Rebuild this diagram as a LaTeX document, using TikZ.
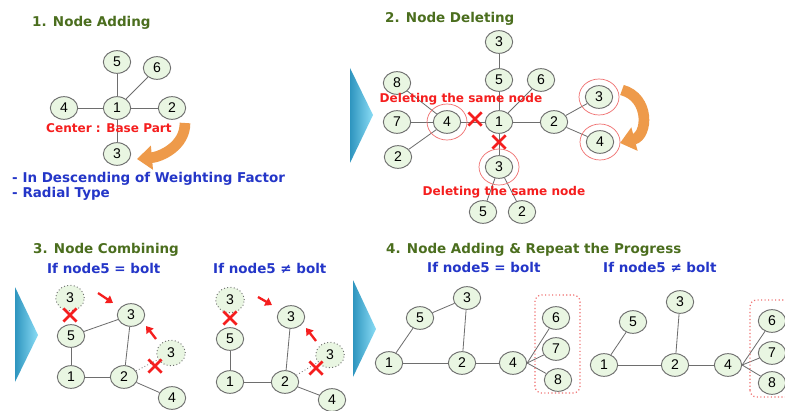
\documentclass[tikz,border=0pt]{standalone}
\usepackage{fontspec}
\setmainfont{DejaVu Sans}
\newfontfamily\digitfont{Liberation Sans}
\usepackage{tikz}
\usetikzlibrary{shapes.geometric, shapes.misc, arrows.meta, positioning}
\definecolor{ndfill}{HTML}{E9F6E2}
\definecolor{ndline}{HTML}{6E6E6E}
\definecolor{ttlgreen}{HTML}{4B6E1E}
\definecolor{subblue}{HTML}{2436C8}
\definecolor{alertred}{HTML}{F51E1E}
\definecolor{turnorange}{HTML}{EE9A4A}
\definecolor{ringred}{HTML}{F07070}
\definecolor{wedgedark}{HTML}{2E95BF}
\definecolor{wedgelight}{HTML}{8ADCF5}
\tikzset{
  nd/.style={ellipse, draw=ndline, fill=ndfill, line width=0.8pt, minimum width=8.2mm, minimum height=6.8mm, inner sep=0pt, font=\digitfont\fontsize{12}{12}\selectfont},
  ghost/.style={nd, dotted, minimum width=8.6mm, minimum height=7.6mm},
  hilite/.style={ellipse, draw=ringred, line width=0.6pt, minimum width=12mm, minimum height=10.8mm},
  lnk/.style={draw=ndline, line width=0.7pt},
  xmark/.style={cross out, draw=alertred, line width=2.2pt, minimum size=3.2mm, inner sep=0pt},
  ttl/.style={anchor=west, inner sep=0pt, text=ttlgreen, font=\bfseries\fontsize{11.5}{12}\selectfont},
  sub/.style={anchor=west, inner sep=0pt, text=subblue, font=\bfseries\fontsize{11.5}{12}\selectfont},
  note/.style={inner sep=0pt, text=alertred, font=\bfseries\fontsize{10.3}{11}\selectfont},
  turn/.style={draw=turnorange, line width=3.2mm, -{Triangle[width=7mm,length=4.5mm]}},
  push/.style={draw=alertred, line width=2pt, -{Triangle[width=2.6mm,length=2mm]}},
  grp/.style={draw=ringred, dotted, line width=1pt, rounded corners=2mm},
  wedge/.style={left color=wedgedark, right color=wedgelight}
}
\begin{document}
\begin{tikzpicture}[x=0.3mm, y=0.3mm]
\useasboundingbox (0,0) rectangle (785,410);
\fill[white] (0,0) rectangle (785,410);
\clip (0,0) rectangle (785,410);

\shade[wedge] (350,342) -- (373,295) -- (350,247) -- cycle;
\shade[wedge] (15,123) -- (38,75) -- (15,28) -- cycle;
\shade[wedge] (353,130) -- (376,81) -- (353,33) -- cycle;

\node[ttl] (t1) at (32,387) {1. Node Adding};
\node[nd] (a5) at (117,348) {5};
\node[nd] (a6) at (157,342) {6};
\node[nd] (a4) at (64,302) {4};
\node[nd] (a1) at (117,302) {1};
\node[nd] (a2) at (172,302) {2};
\node[nd] (a3) at (117,256) {3};
\draw[lnk] (a1) edge (a5) (a1) edge (a6) (a1) edge (a4) (a1) edge (a2) (a1) edge (a3);
\node[note, anchor=west] (n1) at (46,282) {Center : Base Part};
\coordinate (s1) at (185,287);
\coordinate (e1) at (137,251);
\draw[turn] (s1) to[out=-90, in=5] (e1);
\node[sub] (l1) at (12,231) {- In Descending of Weighting Factor};
\node[sub] (l2) at (12,216) {- Radial Type};

\node[ttl] (t2) at (385,391) {2. Node Deleting};
\node[nd] (b3t) at (499,368) {3};
\node[nd] (b5) at (499,330) {5};
\node[nd] (b6) at (541,330) {6};
\node[nd] (b8) at (397,327) {8};
\node[nd] (b7) at (397,288) {7};
\node[nd] (b4) at (447,288) {4};
\node[nd] (b1) at (499,288) {1};
\node[nd] (b2) at (554,288) {2};
\node[nd] (b3r) at (599,313) {3};
\node[nd] (b4r) at (600,268) {4};
\node[nd] (b2l) at (398,253) {2};
\node[nd] (b3b) at (499,243) {3};
\node[nd] (b5b) at (483,198) {5};
\node[nd] (b2b) at (522,198) {2};
\draw[lnk] (b3t) edge (b5) (b5) edge (b1) (b6) edge (b1) (b4) edge (b1) (b1) edge (b2)
  (b1) edge (b3b) (b2) edge (b3r) (b2) edge (b4r) (b8) edge (b4) (b7) edge (b4)
  (b2l) edge (b4) (b3b) edge (b5b) (b3b) edge (b2b);
\node[hilite] (h1) at (b4) {};
\node[hilite] (h2) at (b3r) {};
\node[hilite] (h3) at (b4r) {};
\node[hilite] (h4) at (b3b) {};
\node[xmark] (x1) at (475,291) {};
\node[xmark] (x2) at (499,268) {};
\node[note] (n2) at (461,311) {Deleting the same node};
\node[note] (n3) at (504,218) {Deleting the same node};
\coordinate (s2) at (622,320);
\coordinate (e2) at (620,267);
\draw[turn] (s2) to[out=-15, in=15, looseness=1.4] (e2);

\node[ttl] (t3) at (33,160) {3. Node Combining};
\node[sub] (c0) at (47,142) {If node5 = bolt};
\node[ghost] (c3d) at (70,112) {3};
\node[nd] (c5) at (71,74) {5};
\node[nd] (c3) at (131,95) {3};
\node[nd] (c1) at (71,33) {1};
\node[nd] (c2) at (124,33) {2};
\node[ghost] (c3e) at (171,57) {3};
\node[nd] (c4) at (172,12) {4};
\draw[lnk] (c5) edge (c3) (c3) edge (c2) (c5) edge (c1) (c1) edge (c2) (c2) edge (c4);
\draw[lnk, dotted] (c2) -- (c3e);
\node[xmark] (x3) at (70,95) {};
\node[xmark] (x4) at (155,44) {};
\coordinate (p1) at (98,117);
\coordinate (q1) at (113,107);
\coordinate (p2) at (156,71);
\coordinate (q2) at (146,84);
\draw[push] (p1) -- (q1);
\draw[push] (p2) -- (q2);

\node[sub] (d0) at (213,142) {If node5 ≠ bolt};
\node[ghost] (d3d) at (230,110) {3};
\node[nd] (d5) at (230,71) {5};
\node[nd] (d3) at (291,93) {3};
\node[nd] (d1) at (230,28) {1};
\node[nd] (d2) at (285,28) {2};
\node[ghost] (d3e) at (330,55) {3};
\node[nd] (d4) at (332,10) {4};
\draw[lnk] (d5) edge (d1) (d1) edge (d2) (d3) edge (d2) (d2) edge (d4);
\draw[lnk, dotted] (d2) -- (d3e);
\node[xmark] (x5) at (230,92) {};
\node[xmark] (x6) at (316,42) {};
\coordinate (p3) at (258,113);
\coordinate (q3) at (272,105);
\coordinate (p4) at (316,69);
\coordinate (q4) at (306,82);
\draw[push] (p3) -- (q3);
\draw[push] (p4) -- (q4);

\node[ttl] (t4) at (386,160) {4. Node Adding \& Repeat the Progress};
\node[sub] (e0) at (427,143) {If node5 = bolt};
\node[nd] (e5) at (420,92) {5};
\node[nd] (e3) at (467,112) {3};
\node[nd] (e1) at (389,47) {1};
\node[nd] (e2) at (462,47) {2};
\node[nd] (e4) at (513,47) {4};
\node[nd] (e6) at (556,92) {6};
\node[nd] (e7) at (556,61) {7};
\node[nd] (e8) at (558,30) {8};
\draw[lnk] (e1) edge (e5) (e5) edge (e3) (e3) edge (e2) (e1) edge (e2) (e2) edge (e4)
  (e4.east) edge (e6) (e4.east) edge (e7) (e4.east) edge (e8);
\draw[grp] (535,17) rectangle (580,115);

\node[sub] (f0) at (603,143) {If node5 ≠ bolt};
\node[nd] (f5) at (633,88) {5};
\node[nd] (f3) at (680,108) {3};
\node[nd] (f1) at (604,45) {1};
\node[nd] (f2) at (675,45) {2};
\node[nd] (f4) at (728,45) {4};
\node[nd] (f6) at (772,89) {6};
\node[nd] (f7) at (772,57) {7};
\node[nd] (f8) at (772,27) {8};
\draw[lnk] (f1) edge (f5) (f3) edge (f2) (f1) edge (f2) (f2) edge (f4)
  (f4.east) edge (f6) (f4.east) edge (f7) (f4.east) edge (f8);
\draw[grp] (750,13) rectangle (800,110);
\end{tikzpicture}
\end{document}
